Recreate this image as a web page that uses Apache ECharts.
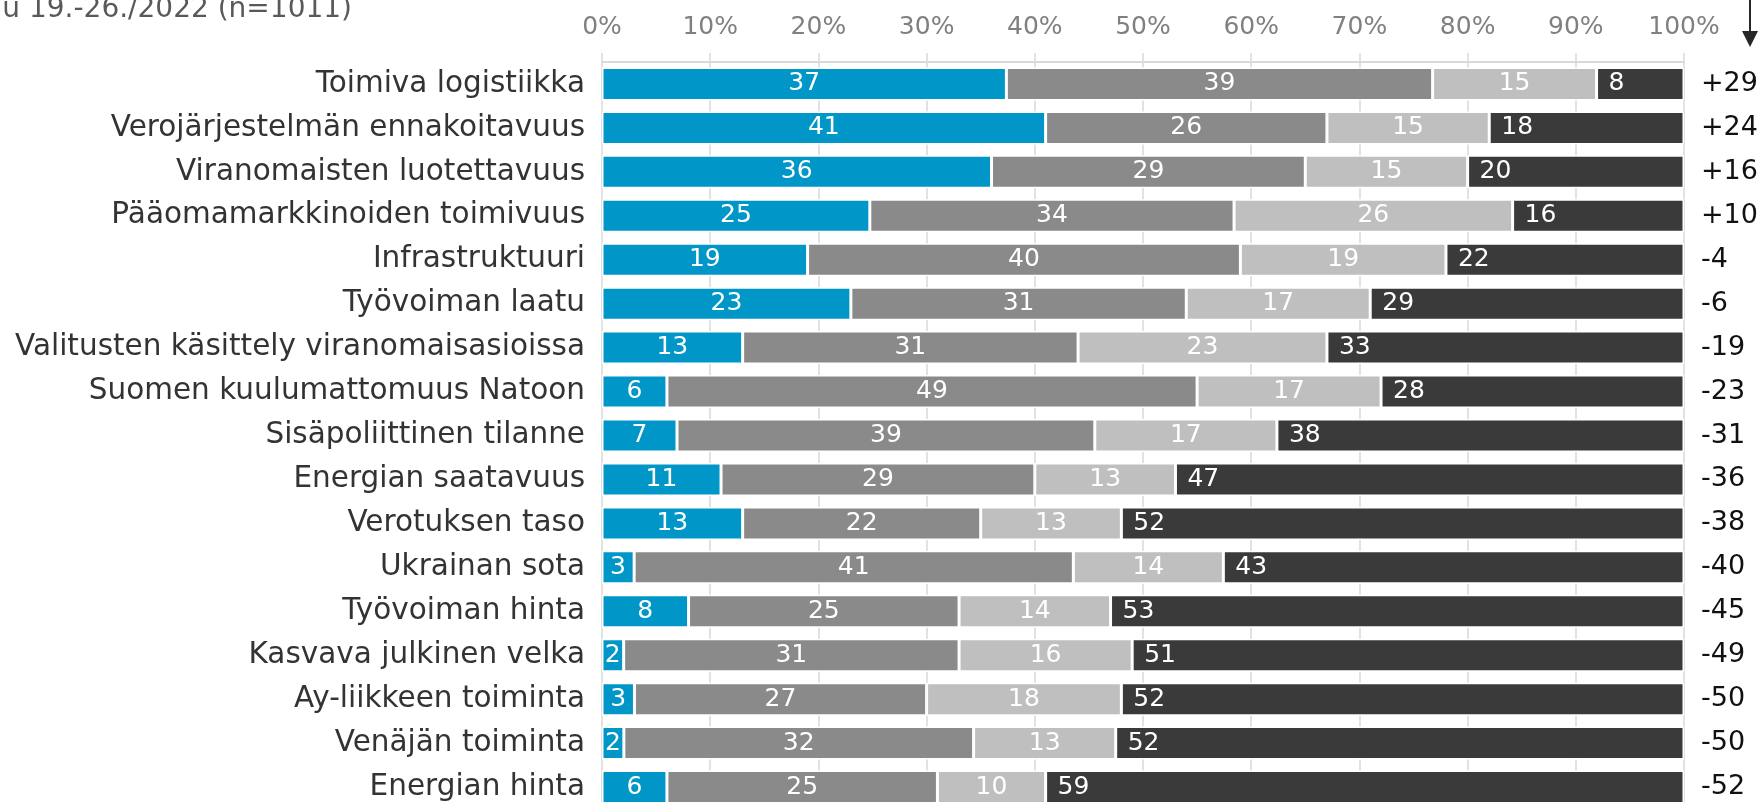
<!DOCTYPE html>
<html>
<head>
<meta charset="utf-8">
<script src="https://cdn.jsdelivr.net/npm/echarts@6/dist/echarts.min.js"></script>
<style>
  html, body { margin: 0; padding: 0; background: #fff; }
  #chart { width: 1764px; height: 802px; }
</style>
</head>
<body>
<div id="chart"></div>
<script>
const categories = [
  'Toimiva logistiikka',
  'Verojärjestelmän ennakoitavuus',
  'Viranomaisten luotettavuus',
  'Pääomamarkkinoiden toimivuus',
  'Infrastruktuuri',
  'Työvoiman laatu',
  'Valitusten käsittely viranomaisasioissa',
  'Suomen kuulumattomuus Natoon',
  'Sisäpoliittinen tilanne',
  'Energian saatavuus',
  'Verotuksen taso',
  'Ukrainan sota',
  'Työvoiman hinta',
  'Kasvava julkinen velka',
  'Ay-liikkeen toiminta',
  'Venäjän toiminta',
  'Energian hinta'
]
const positive = [37, 41, 36, 25, 19, 23, 13, 6, 7, 11, 13, 3, 8, 2, 3, 2, 6]
const neutral = [39, 26, 29, 34, 40, 31, 31, 49, 39, 29, 22, 41, 25, 31, 27, 32, 25]
const unknown = [15, 15, 15, 26, 19, 17, 23, 17, 17, 13, 13, 14, 14, 16, 18, 13, 10]
const negative = [8, 18, 20, 16, 22, 29, 33, 28, 38, 47, 52, 43, 53, 51, 52, 52, 59]
const balance = ['+29', '+24', '+16', '+10', '-4', '-6', '-19', '-23', '-31', '-36', '-38', '-40', '-45', '-49', '-50', '-50', '-52']
const xTicks = [0, 10, 20, 30, 40, 50, 60, 70, 80, 90, 100]

const FONT = 'DejaVu Sans'
const chart = echarts.init(document.getElementById('chart'))

// rivit skaalataan 100 %:iin, nimet näkyvät pyöristettyinä
const totals = categories.map((_, i) => positive[i] + neutral[i] + unknown[i] + negative[i])
const share = (arr) => arr.map((v, i) => ({ value: v / totals[i] * 100, raw: v }))

const makeSeries = (name, arr, color, pos) => ({
  name: name,
  type: 'bar',
  stack: 'total',
  barWidth: 33,
  data: share(arr),
  itemStyle: { color: color, borderColor: '#ffffff', borderWidth: 1.5 },
  label: {
    show: true,
    position: pos,
    distance: 12,
    color: '#ffffff',
    fontFamily: FONT,
    fontSize: 25,
    formatter: (p) => p.data.raw
  }
})

const option = {
  animation: false,
  grid: {
    left: 602,
    top: 62,
    width: 1082,
    height: 747,
    containLabel: false,
    outerBoundsMode: 'none'
  },
  xAxis: {
    type: 'value',
    position: 'top',
    min: 0,
    max: 100,
    interval: 10,
    axisLine: { show: true, lineStyle: { color: '#d9d9d9', width: 2 } },
    axisTick: { show: true, length: 9, lineStyle: { color: '#d9d9d9', width: 1.5 } },
    splitLine: { show: true, lineStyle: { color: '#d9d9d9', width: 1.5 } },
    axisLabel: {
      color: '#808080',
      fontFamily: FONT,
      fontSize: 25,
      margin: 22,
      formatter: (v) => (xTicks.includes(v) ? v + '%' : '')
    }
  },
  yAxis: [
    {
      type: 'category',
      inverse: true,
      data: categories,
      axisLine: { show: false },
      axisTick: { show: false },
      axisLabel: { color: '#333333', fontFamily: FONT, fontSize: 29.5, margin: 17 }
    },
    {
      type: 'category',
      inverse: true,
      position: 'right',
      data: balance,
      axisLine: { show: false },
      axisTick: { show: false },
      axisLabel: { color: '#111111', fontFamily: FONT, fontSize: 27, margin: 17, align: 'left' }
    }
  ],
  series: [
    makeSeries('Parantaa', positive, '#0096c8', 'inside'),
    makeSeries('Ei vaikutusta', neutral, '#8a8a8a', 'inside'),
    makeSeries('En osaa sanoa', unknown, '#bfbfbf', 'inside'),
    makeSeries('Heikentää', negative, '#3a3a3a', 'insideLeft')
  ],
  graphic: [
    {
      type: 'text',
      x: 352,
      y: 10,
      style: {
        text: 'u 19.-26./2022 (n=1011)',
        fill: '#595959',
        font: '28px "DejaVu Sans"',
        textAlign: 'right',
        textVerticalAlign: 'middle'
      }
    },
    {
      type: 'line',
      shape: { x1: 1750, y1: 0, x2: 1750, y2: 34 },
      style: { stroke: '#262626', lineWidth: 2 }
    },
    {
      type: 'polygon',
      shape: { points: [[1742, 31], [1758, 31], [1750, 47]] },
      style: { fill: '#262626' }
    }
  ]
}

chart.setOption(option)
</script>
</body>
</html>
